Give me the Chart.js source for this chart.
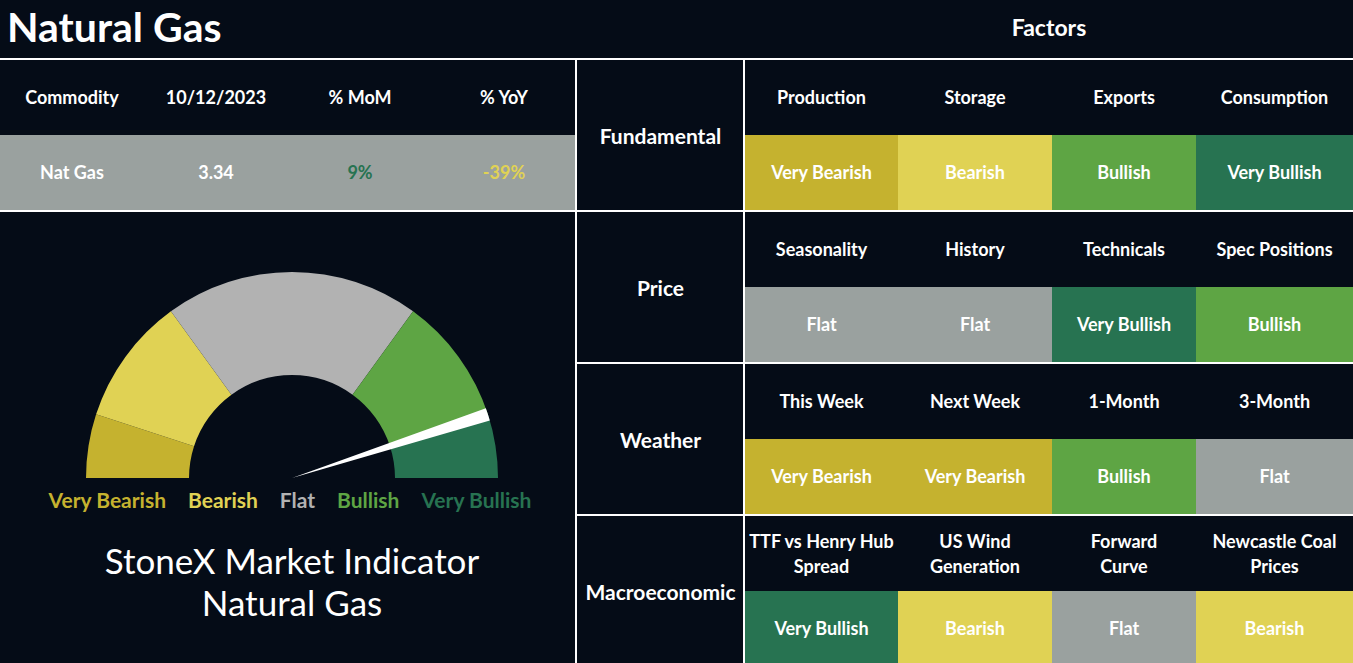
<!DOCTYPE html>
<html>
<head>
<meta charset="utf-8">
<script src="https://cdn.jsdelivr.net/npm/chart.js@4.4.0/dist/chart.umd.min.js"></script>
<style>
body { margin: 0; background: #050c17; font-family: Lato, "Open Sans", sans-serif; color: #fff; }
#board { position: relative; width: 1353px; height: 663px; overflow: hidden; background: #050c17; }
.cell { position: absolute; display: flex; align-items: center; justify-content: center; text-align: center; font-weight: 700; font-size: 18px; line-height: 25px; }
.hline { position: absolute; height: 2px; background: #fff; }
.vline { position: absolute; width: 2px; background: #fff; }
#title { position: absolute; left: 7px; top: 3px; font-size: 41px; font-weight: 700; line-height: 48px; }
#factors { position: absolute; left: 745px; width: 608px; top: 13px; text-align: center; font-size: 23px; font-weight: 700; }
#gaugeWrap, #needleWrap { position: absolute; left: 86px; top: 272px; width: 412px; height: 206px; }
#gaugeLegend { position: absolute; left: 0; width: 580px; top: 487px; text-align: center; font-size: 21px; font-weight: 700; }
#gaugeLegend span { margin: 0 11px; }
#indicator { position: absolute; left: 0; width: 584px; top: 539px; text-align: center; font-size: 35px; line-height: 42px; }
</style>
</head>
<body>
<div id="board">
    <div id="title">Natural Gas</div>
    <div id="factors">Factors</div>
    <div id="gaugeWrap"><canvas id="gauge"></canvas></div>
    <div id="needleWrap"><canvas id="needle"></canvas></div>
    <div id="gaugeLegend"></div>
    <div id="indicator">StoneX Market Indicator<br>Natural Gas</div>
</div>
<script>
// Résumé du prix
const summaryHeaders = ['Commodity', '10/12/2023', '% MoM', '% YoY'];
const summaryValues = ['Nat Gas', '3.34', '9%', '-39%'];
const summaryColors = ['#ffffff', '#ffffff', '#277351', '#e0d254'];

// Facteurs par groupe
const groups = ['Fundamental', 'Price', 'Weather', 'Macroeconomic'];
const factorNames = [
    ['Production', 'Storage', 'Exports', 'Consumption'],
    ['Seasonality', 'History', 'Technicals', 'Spec Positions'],
    ['This Week', 'Next Week', '1-Month', '3-Month'],
    ['TTF vs Henry Hub<br>Spread', 'US Wind<br>Generation', 'Forward<br>Curve', 'Newcastle Coal<br>Prices']
];
const factorSignals = [
    ['Very Bearish', 'Bearish', 'Bullish', 'Very Bullish'],
    ['Flat', 'Flat', 'Very Bullish', 'Bullish'],
    ['Very Bearish', 'Very Bearish', 'Bullish', 'Flat'],
    ['Very Bullish', 'Bearish', 'Flat', 'Bearish']
];

// Jauge
const gaugeLabels = ['Very Bearish', 'Bearish', 'Flat', 'Bullish', 'Very Bullish'];
const gaugeSpans = [1, 2, 4, 2, 1];
const gaugeColors = ['#c5b22f', '#e0d254', '#b2b2b2', '#5ea544', '#277351'];
const cellColors = ['#c5b22f', '#e0d254', '#9aa19f', '#5ea544', '#277351'];
const needleValue = 9.0;
const needleWidth = 0.2;

const board = document.getElementById('board');

function addCell(x, y, w, h, html, bg, color) {
    const d = document.createElement('div');
    d.className = 'cell';
    d.style.left = x + 'px';
    d.style.top = y + 'px';
    d.style.width = w + 'px';
    d.style.height = h + 'px';
    d.innerHTML = html;
    if (bg) d.style.background = bg;
    if (color) d.style.color = color;
    board.appendChild(d);
    return d;
}

function addLine(cls, x, y, len) {
    const d = document.createElement('div');
    d.className = cls;
    d.style.left = x + 'px';
    d.style.top = y + 'px';
    if (cls === 'hline') d.style.width = len + 'px';
    else d.style.height = len + 'px';
    board.appendChild(d);
}

// Tableau de gauche
const leftW = 144;
summaryHeaders.forEach((h, i) => {
    addCell(i * leftW, 60, leftW, 75, h);
    addCell(i * leftW, 135, leftW, 75, summaryValues[i], '#9aa19f', summaryColors[i]);
});

// Tableau des facteurs
const colX = [745, 898, 1052, 1196, 1353];
const rowH = 152;
groups.forEach((g, r) => {
    const top = 60 + r * rowH;
    const c = addCell(577, top, 167, 150, g);
    c.style.fontSize = '21px';
    for (let i = 0; i < 4; i++) {
        const w = colX[i + 1] - colX[i];
        addCell(colX[i], top, w, 75, factorNames[r][i]);
        const sig = factorSignals[r][i];
        addCell(colX[i], top + 75, w, 75, sig, cellColors[gaugeLabels.indexOf(sig)]);
    }
    if (r > 0) addLine('hline', 577, top - 2, 776);
});
addLine('hline', 0, 58, 1353);
addLine('hline', 0, 210, 576);
addLine('vline', 575, 58, 605);
addLine('vline', 743, 58, 605);

// Légende de la jauge
const legend = document.getElementById('gaugeLegend');
gaugeLabels.forEach((l, i) => {
    const s = document.createElement('span');
    s.textContent = l;
    s.style.color = gaugeColors[i];
    legend.appendChild(s);
});

const common = {
    responsive: true,
    maintainAspectRatio: false,
    animation: false,
    circumference: 180,
    rotation: -90,
    plugins: { legend: { display: false }, tooltip: { enabled: false } }
};

new Chart(document.getElementById('gauge'), {
    type: 'doughnut',
    data: {
        labels: gaugeLabels,
        datasets: [{ data: gaugeSpans, backgroundColor: gaugeColors, borderWidth: 0 }]
    },
    options: Object.assign({ cutout: '50%' }, common)
});

const total = gaugeSpans.reduce((a, b) => a + b, 0);
new Chart(document.getElementById('needle'), {
    type: 'pie',
    data: {
        labels: ['', 'needle', ''],
        datasets: [{
            data: [needleValue - needleWidth / 2, needleWidth, total - needleValue - needleWidth / 2],
            backgroundColor: ['rgba(0,0,0,0)', '#ffffff', 'rgba(0,0,0,0)'],
            borderWidth: 0
        }]
    },
    options: common
});
</script>
</body>
</html>
